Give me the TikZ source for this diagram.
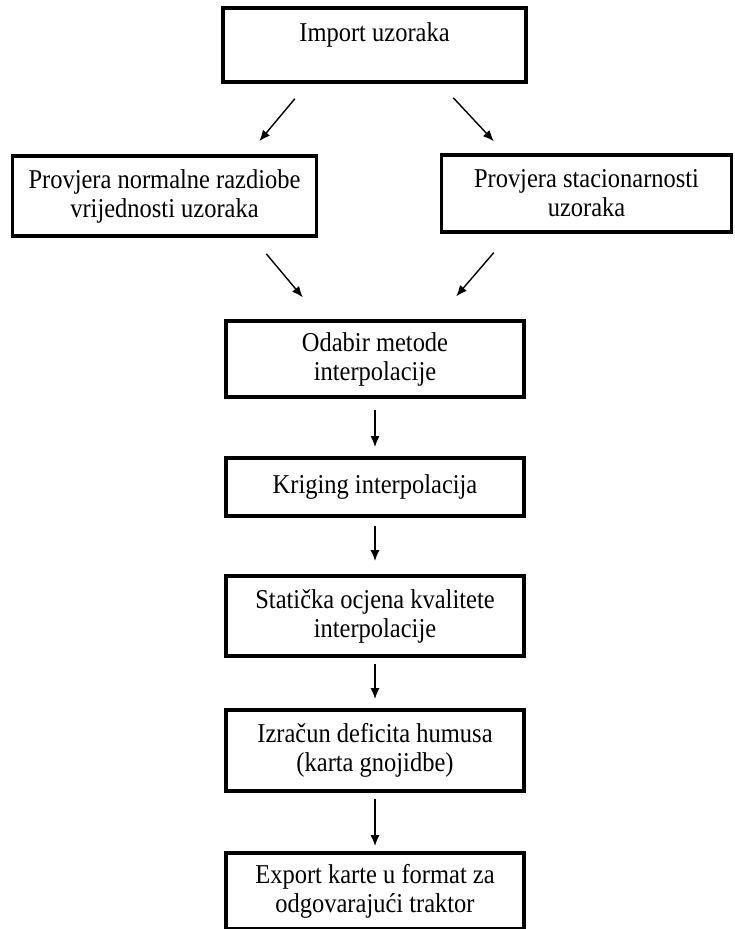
\documentclass[tikz,border=0pt]{standalone}
\usepackage{fontspec}
\setmainfont{Liberation Serif}[FakeStretch=0.9]
\usetikzlibrary{arrows.meta, positioning, calc}

\begin{document}
\begin{tikzpicture}[x=0.5pt, y=-0.5pt,
    every node/.style={draw, line width=1.9pt, align=center, inner sep=0pt, font=\fontsize{13.6}{14.5}\selectfont},
    arr/.style={-{Latex[length=5.5pt, width=4.5pt]}, line width=0.7pt}]
    \useasboundingbox (0,0) rectangle (734,929);

    % Nodes
    \node[minimum width=151.5pt, minimum height=37pt] (import) at (374.5, 45) {Import uzoraka\\[-6pt] \strut};
    \node[minimum width=152pt, minimum height=40pt] (normal) at (164.5, 196) {Provjera normalne razdiobe\\ vrijednosti uzoraka};
    \node[minimum width=145pt, minimum height=38.5pt] (stac) at (586.5, 193.5) {Provjera stacionarnosti\\ uzoraka};
    \node[minimum width=149pt, minimum height=38pt] (odabir) at (375, 359) {Odabir metode\\ interpolacije};
    \node[minimum width=149pt, minimum height=29pt] (kriging) at (375, 487) {Kriging interpolacija};
    \node[minimum width=149pt, minimum height=40pt] (ocjena) at (375, 616) {Statička ocjena kvalitete\\ interpolacije};
    \node[minimum width=149pt, minimum height=40.5pt] (deficit) at (375, 750.5) {Izračun deficita humusa\\ (karta gnojidbe)};
    \node[minimum width=149pt, minimum height=38pt] (export) at (375, 891) {Export karte u format za\\ odgovarajući traktor};

    % Edges
    \draw[arr, shorten <=9.7pt, shorten >=8.4pt] ([xshift=-33.6pt]import.south) -- ([xshift=42pt]normal.north);
    \draw[arr, shorten <=9.5pt, shorten >=8.1pt] ([xshift=32.9pt]import.south) -- ([xshift=-40.8pt]stac.north);
    \draw[arr, shorten <=10.4pt, shorten >=14.2pt] ([xshift=44.2pt]normal.south) -- ([xshift=-27pt]odabir.north);
    \draw[arr, shorten <=12.4pt, shorten >=15pt] ([xshift=-38.3pt]stac.south) -- ([xshift=30.8pt]odabir.north);
    \draw[arr, shorten <=5.5pt, shorten >=4.5pt] (odabir) -- (kriging);
    \draw[arr, shorten <=4pt, shorten >=6.5pt] (kriging) -- (ocjena);
    \draw[arr, shorten <=3pt, shorten >=4.5pt] (ocjena) -- (deficit);
    \draw[arr, shorten <=3pt, shorten >=2.5pt] (deficit) -- (export);
\end{tikzpicture}
\end{document}
